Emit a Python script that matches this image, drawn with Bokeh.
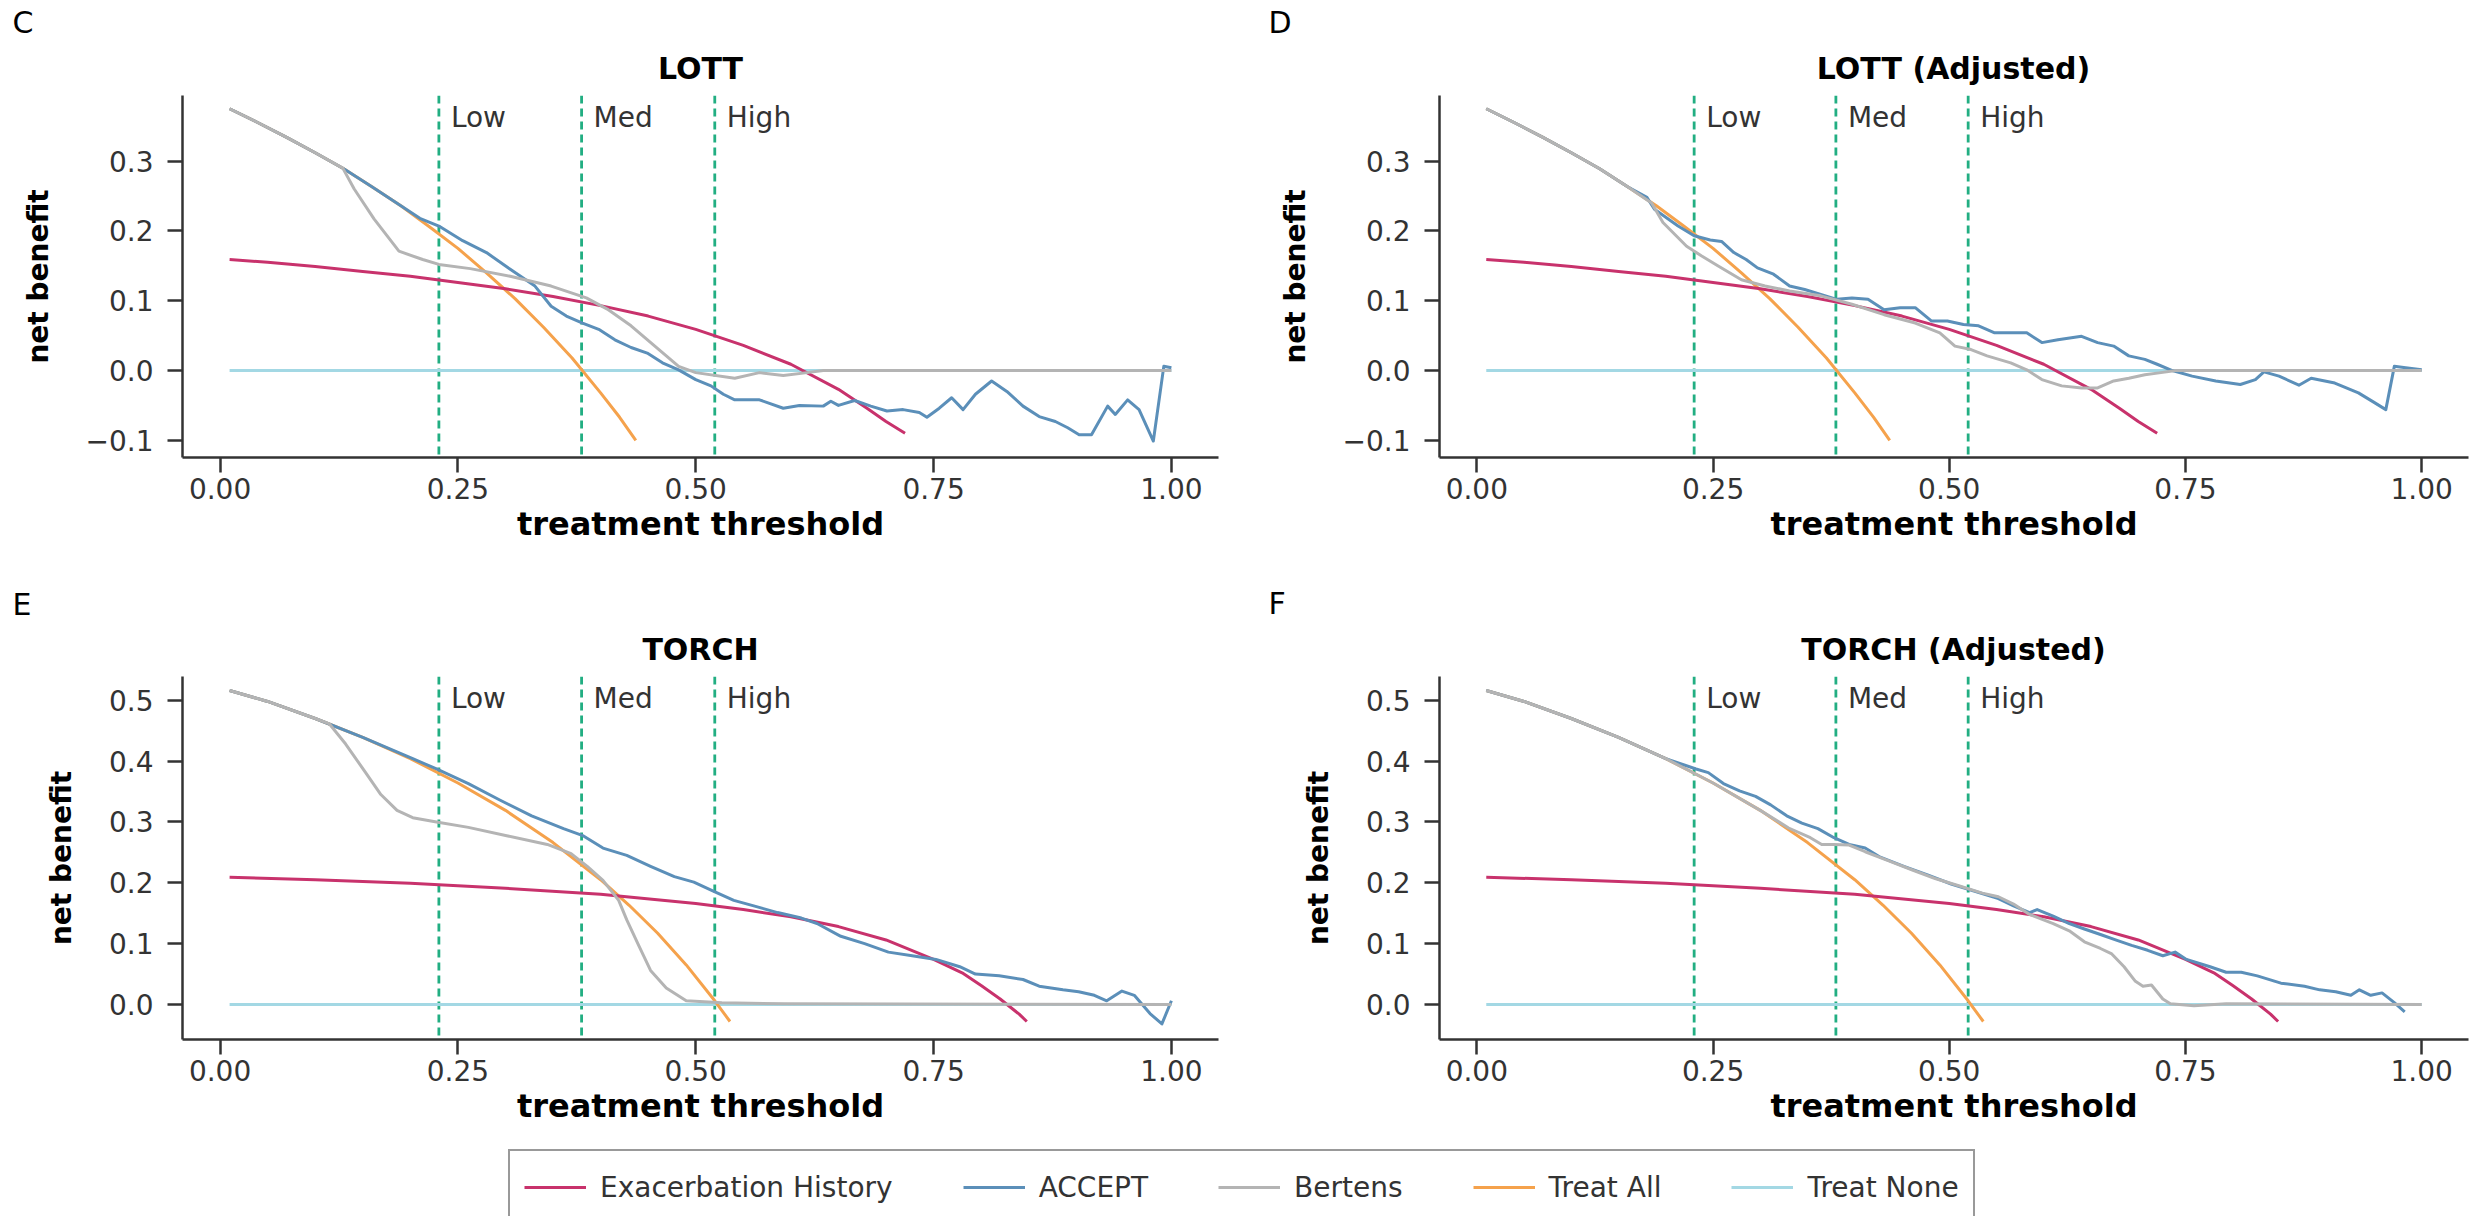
from bokeh.plotting import figure
from bokeh.layouts import column, row
from bokeh.models import Range1d, FixedTicker, Span, Legend, LegendItem, CustomJSTickFormatter
from bokeh.core.properties import value
from bokeh.embed import file_html
from bokeh.resources import INLINE

FONT = "DejaVu Sans"

# ---------------- data ----------------
SERIES_NAMES = ["Exacerbation History", "ACCEPT", "Bertens", "Treat All", "Treat None"]
SERIES_COLORS = ["#c8326c", "#5b8fb9", "#b4b4b4", "#f5a24c", "#a3d8e4"]
THRESHOLDS = [0.23, 0.38, 0.52]
THRESHOLD_LABELS = ["Low", "Med", "High"]
PANEL_LETTERS = ["C", "D", "E", "F"]
PANEL_TITLES = ["LOTT", "LOTT (Adjusted)", "TORCH", "TORCH (Adjusted)"]
X_TICKS = [0.0, 0.25, 0.5, 0.75, 1.0]
LOTT_Y_TICKS = [-0.1, 0.0, 0.1, 0.2, 0.3]
TORCH_Y_TICKS = [0.0, 0.1, 0.2, 0.3, 0.4, 0.5]

NONE_X = [0.01, 1.0]
NONE_Y = [0.0, 0.0]

LOTT_ALL_X = [0.01, 0.04, 0.07, 0.10, 0.13, 0.16, 0.19, 0.22, 0.25, 0.28, 0.31, 0.34, 0.37, 0.40, 0.42, 0.437]
LOTT_ALL_Y = [0.375, 0.355, 0.334, 0.312, 0.289, 0.263, 0.236, 0.206, 0.175, 0.140, 0.103, 0.062, 0.018, -0.032, -0.067, -0.100]

LOTT_EXAC_X = [0.01, 0.05, 0.10, 0.15, 0.20, 0.25, 0.30, 0.35, 0.40, 0.45, 0.50, 0.55, 0.60, 0.65, 0.68, 0.70, 0.72]
LOTT_EXAC_Y = [0.159, 0.155, 0.149, 0.142, 0.135, 0.126, 0.117, 0.106, 0.093, 0.078, 0.059, 0.036, 0.009, -0.027, -0.054, -0.073, -0.090]

TORCH_ALL_X = [0.01, 0.05, 0.10, 0.15, 0.20, 0.25, 0.30, 0.35, 0.40, 0.43, 0.46, 0.49, 0.52, 0.536]
TORCH_ALL_Y = [0.516, 0.498, 0.470, 0.439, 0.404, 0.364, 0.319, 0.266, 0.205, 0.163, 0.117, 0.065, 0.006, -0.028]

TORCH_EXAC_X = [0.01, 0.10, 0.20, 0.30, 0.40, 0.50, 0.55, 0.60, 0.65, 0.70, 0.75, 0.78, 0.80, 0.82, 0.84, 0.848]
TORCH_EXAC_Y = [0.209, 0.205, 0.199, 0.191, 0.181, 0.166, 0.156, 0.144, 0.128, 0.106, 0.074, 0.052, 0.031, 0.009, -0.016, -0.028]

C_ACCEPT_X = [0.01, 0.04, 0.07, 0.10, 0.13, 0.16, 0.19, 0.21, 0.23, 0.255, 0.28, 0.305, 0.331, 0.348, 0.364, 0.381,
              0.398, 0.415, 0.432, 0.449, 0.465, 0.482, 0.50, 0.516, 0.529, 0.541, 0.567, 0.592, 0.609, 0.634, 0.642,
              0.65, 0.667, 0.684, 0.701, 0.718, 0.735, 0.743, 0.756, 0.769, 0.781, 0.794, 0.811, 0.827, 0.844, 0.861,
              0.878, 0.891, 0.903, 0.916, 0.933, 0.941, 0.954, 0.966, 0.981, 0.992, 1.0]
C_ACCEPT_Y = [0.375, 0.355, 0.334, 0.312, 0.289, 0.263, 0.236, 0.218, 0.207, 0.186, 0.169, 0.145, 0.121, 0.092, 0.078,
              0.068, 0.059, 0.044, 0.033, 0.025, 0.011, 0.001, -0.013, -0.022, -0.034, -0.042, -0.042, -0.054, -0.050,
              -0.051, -0.044, -0.050, -0.043, -0.051, -0.058, -0.056, -0.060, -0.067, -0.054, -0.039, -0.056, -0.034,
              -0.015, -0.030, -0.051, -0.066, -0.073, -0.082, -0.092, -0.092, -0.051, -0.063, -0.042, -0.056, -0.101,
              0.006, 0.004]

C_BERTENS_X = [0.01, 0.04, 0.07, 0.10, 0.129, 0.141, 0.162, 0.188, 0.213, 0.23, 0.263, 0.305, 0.348, 0.385, 0.407,
               0.432, 0.457, 0.482, 0.50, 0.541, 0.567, 0.592, 0.617, 0.634, 1.0]
C_BERTENS_Y = [0.375, 0.355, 0.334, 0.312, 0.290, 0.260, 0.217, 0.171, 0.159, 0.152, 0.146, 0.135, 0.121, 0.104, 0.088,
               0.064, 0.035, 0.006, -0.003, -0.011, -0.003, -0.007, -0.003, 0.0, 0.0]

D_ACCEPT_X = [0.01, 0.04, 0.07, 0.10, 0.13, 0.16, 0.18, 0.188, 0.213, 0.23, 0.247, 0.259, 0.272, 0.285, 0.297, 0.314,
              0.331, 0.347, 0.364, 0.381, 0.397, 0.414, 0.431, 0.448, 0.464, 0.481, 0.498, 0.515, 0.531, 0.548, 0.582,
              0.598, 0.615, 0.640, 0.657, 0.674, 0.690, 0.707, 0.720, 0.736, 0.757, 0.782, 0.808, 0.824, 0.833, 0.849,
              0.870, 0.883, 0.908, 0.933, 0.950, 0.962, 0.971, 0.983, 1.0]
D_ACCEPT_Y = [0.375, 0.355, 0.334, 0.312, 0.289, 0.263, 0.248, 0.231, 0.207, 0.193, 0.187, 0.185, 0.169, 0.159, 0.147,
              0.138, 0.121, 0.116, 0.109, 0.102, 0.104, 0.102, 0.087, 0.090, 0.090, 0.071, 0.071, 0.066, 0.064, 0.054,
              0.054, 0.040, 0.044, 0.049, 0.040, 0.035, 0.021, 0.016, 0.009, 0.000, -0.008, -0.015, -0.020, -0.013,
              -0.002, -0.008, -0.021, -0.011, -0.018, -0.032, -0.046, -0.056, 0.006, 0.004, 0.001]

D_BERTENS_X = [0.01, 0.04, 0.07, 0.10, 0.13, 0.16, 0.185, 0.197, 0.222, 0.238, 0.255, 0.280, 0.305, 0.331, 0.364,
               0.397, 0.431, 0.464, 0.490, 0.506, 0.523, 0.540, 0.565, 0.582, 0.598, 0.619, 0.640, 0.657, 0.674, 0.690,
               0.707, 0.724, 0.740, 1.0]
D_BERTENS_Y = [0.375, 0.355, 0.334, 0.312, 0.289, 0.263, 0.240, 0.212, 0.178, 0.164, 0.150, 0.130, 0.121, 0.114, 0.107,
               0.095, 0.080, 0.068, 0.054, 0.035, 0.030, 0.021, 0.011, 0.001, -0.013, -0.022, -0.025, -0.025, -0.015,
               -0.011, -0.006, -0.003, 0.0, 0.0]

E_ACCEPT_X = [0.01, 0.05, 0.10, 0.15, 0.2025, 0.2275, 0.261, 0.294, 0.3275, 0.361, 0.382, 0.4025, 0.4275, 0.4525,
              0.4775, 0.498, 0.519, 0.540, 0.561, 0.586, 0.611, 0.6275, 0.6525, 0.6775, 0.7025, 0.7275, 0.7525, 0.7775,
              0.794, 0.819, 0.844, 0.861, 0.886, 0.9025, 0.919, 0.932, 0.948, 0.961, 0.9775, 0.990, 1.0]
E_ACCEPT_Y = [0.516, 0.498, 0.470, 0.439, 0.404, 0.387, 0.363, 0.336, 0.310, 0.289, 0.277, 0.257, 0.245, 0.227, 0.210,
              0.201, 0.186, 0.171, 0.162, 0.151, 0.142, 0.133, 0.112, 0.100, 0.086, 0.080, 0.074, 0.062, 0.050, 0.047,
              0.041, 0.030, 0.024, 0.021, 0.015, 0.006, 0.022, 0.015, -0.015, -0.032, 0.006]

E_BERTENS_X = [0.01, 0.05, 0.10, 0.115, 0.132, 0.153, 0.169, 0.186, 0.2025, 0.2275, 0.261, 0.3025, 0.344, 0.369, 0.386,
               0.4025, 0.419, 0.4275, 0.44, 0.4525, 0.469, 0.49, 0.5275, 0.594, 1.0]
E_BERTENS_Y = [0.516, 0.498, 0.470, 0.461, 0.428, 0.381, 0.345, 0.319, 0.307, 0.300, 0.291, 0.277, 0.263, 0.248, 0.227,
               0.204, 0.171, 0.139, 0.097, 0.056, 0.027, 0.006, 0.003, 0.001, 0.0]

F_ACCEPT_X = [0.01, 0.05, 0.10, 0.15, 0.20, 0.232, 0.245, 0.261, 0.278, 0.295, 0.311, 0.328, 0.344, 0.361, 0.378, 0.394,
              0.411, 0.427, 0.452, 0.477, 0.502, 0.527, 0.552, 0.568, 0.585, 0.593, 0.610, 0.627, 0.643, 0.660, 0.676,
              0.693, 0.710, 0.726, 0.739, 0.751, 0.776, 0.793, 0.809, 0.826, 0.851, 0.876, 0.892, 0.909, 0.925, 0.934,
              0.946, 0.958, 0.971, 0.982]
F_ACCEPT_Y = [0.516, 0.498, 0.470, 0.439, 0.404, 0.387, 0.381, 0.363, 0.351, 0.342, 0.328, 0.310, 0.298, 0.289, 0.274,
              0.263, 0.257, 0.242, 0.227, 0.213, 0.198, 0.186, 0.174, 0.162, 0.151, 0.156, 0.145, 0.133, 0.124, 0.115,
              0.106, 0.097, 0.089, 0.080, 0.086, 0.074, 0.062, 0.053, 0.053, 0.047, 0.035, 0.030, 0.024, 0.021, 0.015,
              0.024, 0.015, 0.019, 0.003, -0.012]

F_BERTENS_X = [0.01, 0.05, 0.10, 0.15, 0.20, 0.25, 0.30, 0.33, 0.353, 0.365, 0.378, 0.394, 0.411, 0.436, 0.461, 0.485,
               0.510, 0.535, 0.552, 0.568, 0.585, 0.610, 0.627, 0.643, 0.660, 0.672, 0.685, 0.697, 0.705, 0.714, 0.726,
               0.734, 0.759, 0.793, 1.0]
F_BERTENS_Y = [0.516, 0.498, 0.470, 0.439, 0.404, 0.364, 0.319, 0.290, 0.274, 0.263, 0.263, 0.262, 0.251, 0.236, 0.221,
               0.207, 0.195, 0.183, 0.177, 0.165, 0.148, 0.133, 0.121, 0.103, 0.092, 0.083, 0.062, 0.038, 0.030, 0.032,
               0.009, 0.001, -0.002, 0.001, 0.0]

# ---------------- styling constants ----------------
AXIS_COLOR = "#333333"
TEXT_COLOR = "#333333"
DASH_COLOR = "#22ae82"
X_RANGE = (-0.0395, 1.0495)
LOTT_Y_RANGE = (-0.1246, 0.394)
TORCH_Y_RANGE = (-0.0576, 0.539)


def make_panel(width, height, mbl, mbr, mbb, y_range, y_ticks, series, label_y):
    p = figure(width=width, height=height, x_range=Range1d(*X_RANGE), y_range=Range1d(*y_range),
               output_backend="svg", toolbar_location=None,
               min_border_left=mbl, min_border_right=mbr, min_border_top=5, min_border_bottom=mbb,
               x_axis_label="treatment threshold", y_axis_label="net benefit")
    p.grid.visible = False
    p.outline_line_color = None
    p.background_fill_color = "white"
    p.border_fill_color = "white"

    for ax in (p.xaxis[0], p.yaxis[0]):
        ax.axis_line_color = AXIS_COLOR
        ax.axis_line_width = 2.5
        ax.major_tick_line_color = AXIS_COLOR
        ax.major_tick_line_width = 2.5
        ax.major_tick_out = 15
        ax.major_tick_in = 0
        ax.minor_tick_line_color = None
        ax.major_label_text_font = FONT
        ax.major_label_text_font_size = "28px"
        ax.major_label_text_color = TEXT_COLOR
        ax.axis_label_text_font = FONT
        ax.axis_label_text_font_style = "bold"
        ax.axis_label_text_color = "black"

    p.xaxis.ticker = FixedTicker(ticks=X_TICKS)
    p.xaxis.formatter = CustomJSTickFormatter(code="return tick.toFixed(2);")
    p.xaxis.major_label_standoff = 5
    p.xaxis.axis_label_standoff = 3
    p.xaxis.axis_label_text_font_size = "32px"

    p.yaxis.ticker = FixedTicker(ticks=y_ticks)
    p.yaxis.formatter = CustomJSTickFormatter(code="return tick.toFixed(1).replace('-', '\u2212');")
    p.yaxis.major_label_standoff = 14
    p.yaxis.axis_label_standoff = 28
    p.yaxis.axis_label_text_font_size = "28px"

    for t in THRESHOLDS:
        span = Span(location=t, dimension="height", line_color=DASH_COLOR, line_width=2.8,
                    line_dash="8 5", level="underlay")
        p.add_layout(span)
    p.text(x=THRESHOLDS, y=[label_y] * len(THRESHOLDS), text=THRESHOLD_LABELS, x_offset=12,
           text_font=value(FONT), text_font_size=value("28px"), text_color=TEXT_COLOR,
           text_baseline="middle", text_align="left")

    # drawing order: Treat None, Treat All, Exacerbation History, ACCEPT, Bertens
    order = [4, 3, 0, 1, 2]
    for i in order:
        xs, ys = series[i]
        p.line(xs, ys, line_color=SERIES_COLORS[i], line_width=3, line_join="round")
    return p


LOTT_ALL = (LOTT_ALL_X, LOTT_ALL_Y)
LOTT_EXAC = (LOTT_EXAC_X, LOTT_EXAC_Y)
TORCH_ALL = (TORCH_ALL_X, TORCH_ALL_Y)
TORCH_EXAC = (TORCH_EXAC_X, TORCH_EXAC_Y)
NONE = (NONE_X, NONE_Y)

pC = make_panel(1232, 477, 182, 14, 110, LOTT_Y_RANGE, LOTT_Y_TICKS,
                [LOTT_EXAC, (C_ACCEPT_X, C_ACCEPT_Y), (C_BERTENS_X, C_BERTENS_Y), LOTT_ALL, NONE], 0.363)
pD = make_panel(1238, 477, 207, 2, 110, LOTT_Y_RANGE, LOTT_Y_TICKS,
                [LOTT_EXAC, (D_ACCEPT_X, D_ACCEPT_Y), (D_BERTENS_X, D_BERTENS_Y), LOTT_ALL, NONE], 0.363)
pE = make_panel(1232, 473, 182, 14, 105, TORCH_Y_RANGE, TORCH_Y_TICKS,
                [TORCH_EXAC, (E_ACCEPT_X, E_ACCEPT_Y), (E_BERTENS_X, E_BERTENS_Y), TORCH_ALL, NONE], 0.503)
pF = make_panel(1238, 473, 207, 2, 105, TORCH_Y_RANGE, TORCH_Y_TICKS,
                [TORCH_EXAC, (F_ACCEPT_X, F_ACCEPT_Y), (F_BERTENS_X, F_BERTENS_Y), TORCH_ALL, NONE], 0.503)


def make_header(top, bottom, letters, letter_pos, titles, title_pos):
    h = figure(width=2470, height=bottom - top, x_range=Range1d(8, 2478), y_range=Range1d(bottom, top),
               output_backend="svg", toolbar_location=None, min_border=0,
               x_axis_type=None, y_axis_type=None)
    h.grid.visible = False
    h.outline_line_color = None
    h.text(x=[pt[0] for pt in letter_pos], y=[pt[1] for pt in letter_pos], text=letters,
           text_font=value(FONT), text_font_size=value("30px"), text_color="black",
           text_baseline="middle", text_align="left")
    h.text(x=[pt[0] for pt in title_pos], y=[pt[1] for pt in title_pos], text=titles,
           text_font=value(FONT), text_font_size=value("30px"), text_font_style="bold",
           text_color="black", text_baseline="middle", text_align="center")
    return h


head1 = make_header(8, 98, PANEL_LETTERS[:2], [(20, 30), (1276, 30)], PANEL_TITLES[:2], [(708, 76), (1961, 76)])
head2 = make_header(575, 679, PANEL_LETTERS[2:], [(20, 612), (1276, 611)], PANEL_TITLES[2:], [(708, 657), (1961, 657)])

# legend strip
leg = figure(width=2470, height=72, x_range=Range1d(0, 1), y_range=Range1d(0, 1),
             output_backend="svg", toolbar_location=None, min_border=0,
             x_axis_type=None, y_axis_type=None)
leg.grid.visible = False
leg.outline_line_color = None
# key-only renderers, their points lie outside the visible range of this strip
dummy = [leg.line(x=[5, 6], y=[5, 5], line_color=c, line_width=3) for c in SERIES_COLORS]
legend = Legend(items=[LegendItem(label=n, renderers=[r]) for n, r in zip(SERIES_NAMES, dummy)],
                orientation="horizontal", location=(508, -9),
                label_text_font=FONT, label_text_font_size="28px", label_text_color=TEXT_COLOR,
                glyph_width=62, glyph_height=20, label_height=44, label_standoff=14, spacing=70,
                padding=14, margin=0,
                border_line_color=AXIS_COLOR, border_line_width=2.5,
                background_fill_color="white", background_fill_alpha=1.0)
leg.add_layout(legend)

layout = column(head1, row(pC, pD), head2, row(pE, pF), leg)

open("out.html", "w").write(file_html(layout, INLINE))
